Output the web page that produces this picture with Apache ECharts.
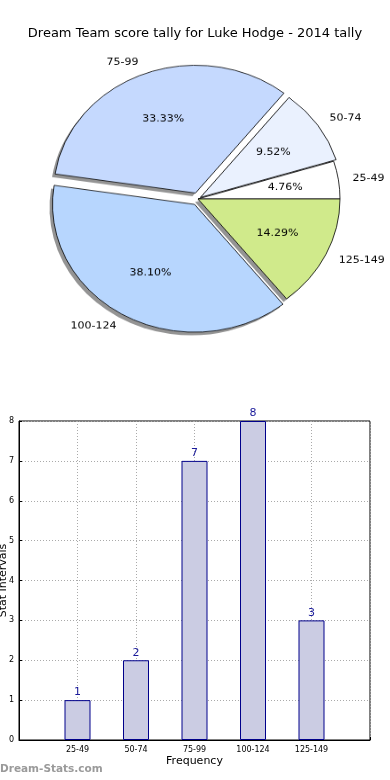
<!DOCTYPE html>
<html><head><meta charset="utf-8">
<script src="https://cdn.jsdelivr.net/npm/echarts@6/dist/echarts.min.js"></script>
<style>
html,body{margin:0;padding:0;background:#fff;width:390px;height:780px;overflow:hidden}
#bar{position:absolute;left:0;top:0;width:390px;height:780px}
#pie{position:absolute;left:0;top:0;width:390px;height:400px;transform:scaleY(0.9);transform-origin:0 0}
</style></head><body>
<div id="bar"></div><div id="pie"></div>
<script>
const titleText = 'Dream Team score tally for Luke Hodge - 2014 tally';
const categories = ['25-49', '50-74', '75-99', '100-124', '125-149'];
const counts = [1, 2, 7, 8, 3];
const sliceColors = ['#ffffff', '#eaf1fe', '#c5d9fe', '#b7d6fe', '#d0ea8b'];
const explodeOffsets = [0, 3, 7, 7, 0];
const yMax = 8;

const FONT = 'DejaVu Sans';
const groups = [...new Set(explodeOffsets)];
const pieCenter = [198, 221];
const shadowCenter = [195, 224.5];
const R = 142;

const shadowSeries = [], wedgeSeries = [], labelSeries = [];
groups.forEach(off => {
  const inGroup = i => explodeOffsets[i] === off;
  const mk = (cfg) => ({
    type: 'pie', silent: true, startAngle: 0, clockwise: false,
    center: cfg.center || pieCenter, avoidLabelOverlap: false, selectedMode: 'multiple',
    selectedOffset: off, percentPrecision: 2, emphasis: {disabled: true},
    animation: false,
    radius: cfg.radius,
    labelLine: {show: false, length: 0, length2: 0},
    data: categories.map((c, i) => ({
      name: c, value: counts[i], selected: inGroup(i) && off > 0,
      itemStyle: (cfg.kind !== 'label' && inGroup(i)) ? {
        color: cfg.kind === 'shadow' ? 'rgba(0,0,0,0.42)' : sliceColors[i],
        borderColor: '#000', borderWidth: cfg.kind === 'shadow' ? 0 : 0.8
      } : {color: 'transparent', borderWidth: 0},
      label: {show: cfg.kind === 'label' && inGroup(i)}
    })),
    label: cfg.label || {show: false}
  });
  shadowSeries.push(mk({kind: 'shadow', radius: [0, R], center: shadowCenter}));
  wedgeSeries.push(mk({kind: 'wedge', radius: [0, R]}));
  labelSeries.push(mk({kind: 'label', radius: [0, R * 1.2], label: {
    position: 'inner', fontFamily: FONT, fontSize: 11, color: '#000',
    formatter: p => p.percent.toFixed(2) + '%'
  }}));
  labelSeries.push(mk({kind: 'label', radius: [0, R * 1.1], label: {
    position: 'outside', distanceToLabelLine: 0, fontFamily: FONT, fontSize: 11, color: '#000',
    formatter: p => p.name
  }}));
});

const pie = echarts.init(document.getElementById('pie'), null, {renderer: 'canvas'});
pie.setOption({animation: false, series: [...shadowSeries, ...wedgeSeries, ...labelSeries]});

const bar = echarts.init(document.getElementById('bar'), null, {renderer: 'canvas'});
bar.setOption({
  animation: false,
  textStyle: {fontFamily: FONT},
  title: {text: titleText, left: 'center', top: 22,
    textStyle: {fontFamily: FONT, fontSize: 13, fontWeight: 'normal', color: '#000'}},
  grid: {left: 19, right: 20, top: 421, bottom: 40, show: true, borderColor: '#000', borderWidth: 1,
    containLabel: false, outerBoundsMode: 'none'},
  xAxis: {
    type: 'value', min: 0, max: categories.length + 1, interval: 1,
    axisLabel: {formatter: v => categories[v - 1] || '', fontSize: 8, color: '#000', margin: 6, fontFamily: FONT},
    splitLine: {show: true, lineStyle: {type: [1, 2], color: '#aaa'}},
    axisLine: {lineStyle: {color: '#000'}},
    axisTick: {inside: true, length: 3, lineStyle: {color: '#000'}},
    name: 'Frequency', nameLocation: 'middle', nameGap: 16, nameMoveOverlap: false,
    nameTextStyle: {fontSize: 11, color: '#000', fontFamily: FONT}
  },
  yAxis: {
    type: 'value', min: 0, max: yMax, interval: 1,
    axisLabel: {fontSize: 8, color: '#000', margin: 5, fontFamily: FONT},
    splitLine: {show: true, lineStyle: {type: [1, 2], color: '#aaa'}},
    axisLine: {show: true, lineStyle: {color: '#000'}},
    axisTick: {show: true, inside: true, length: 3, lineStyle: {color: '#000'}},
    name: 'Stat Intervals', nameLocation: 'middle', nameGap: 10, nameRotate: 90, nameMoveOverlap: false,
    nameTextStyle: {fontSize: 11, color: '#000', fontFamily: FONT}
  },
  graphic: [{type: 'text', left: 0, top: 764,
    style: {text: 'Dream-Stats.com', fontFamily: FONT, fontSize: 10.5, fontWeight: 'bold', fill: '#9a9a9a'}}],
  series: [{
    type: 'bar', barWidth: 26,
    data: counts.map((v, i) => [i + 1, v]),
    itemStyle: {color: '#cbcce3', borderColor: '#00008b', borderWidth: 1},
    label: {show: true, position: 'top', distance: 2, color: '#1a1a9a', fontSize: 11, fontFamily: FONT}
  }]
});
</script>
</body></html>
